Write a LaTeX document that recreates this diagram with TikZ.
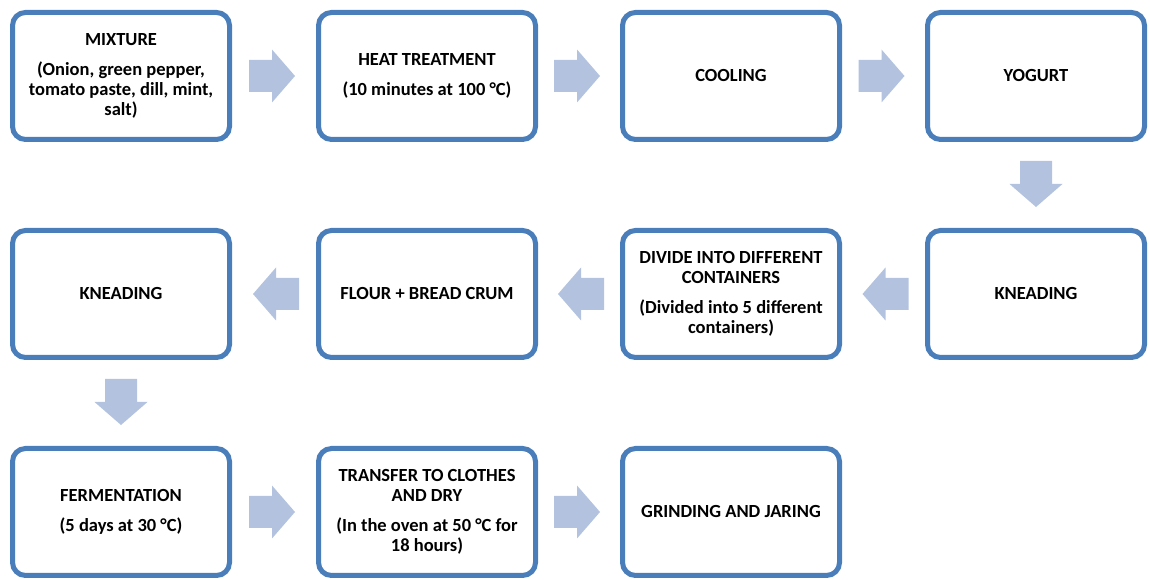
\documentclass[tikz,border=0pt]{standalone}
\usepackage{fontspec}
\setmainfont{Carlito}
\usetikzlibrary{calc}
\definecolor{boxline}{HTML}{4A7EBB}
\definecolor{arrowfill}{HTML}{B3C3DF}
\newcommand\blockarrow[2]{%
  \fill[arrowfill, shift={(#1)}, rotate=#2] (-23,-16) -- (0,-16) -- (0,-26.5) -- (23,0) -- (0,26.5) -- (0,16) -- (-23,16) -- cycle;}
\begin{document}
\begin{tikzpicture}[x=1pt,y=1pt,
  stepbox/.style={draw=boxline, line width=5pt, rounded corners=13pt, fill=white,
    minimum width=217pt, minimum height=127pt, align=center, inner sep=1pt,
    font=\fontsize{18.5}{20.3}\selectfont\bfseries}]
\useasboundingbox (0,0) rectangle (1150,580);
% row 1
\node[stepbox] (mix) at (121,504) {MIXTURE\\[9.7pt](Onion, green pepper,\\tomato paste, dill, mint,\\salt)};
\node[stepbox] (heat) at (427,504) {HEAT TREATMENT\\[9.7pt](10 minutes at 100 °C)};
\node[stepbox] (cool) at (731,504) {COOLING};
\node[stepbox] (yog) at (1036,504) {YOGURT};
% row 2
\node[stepbox] (knead1) at (1036,286) {KNEADING};
\node[stepbox] (divide) at (731,286) {DIVIDE INTO DIFFERENT\\CONTAINERS\\[9.7pt](Divided into 5 different\\containers)};
\node[stepbox] (flour) at (427,286) {FLOUR + BREAD CRUM};
\node[stepbox] (knead2) at (121,286) {KNEADING};
% row 3
\node[stepbox] (ferm) at (121,68) {FERMENTATION\\[9.7pt](5 days at 30 °C)};
\node[stepbox] (dry) at (427,68) {TRANSFER TO CLOTHES\\AND DRY\\[9.7pt](In the oven at 50 °C for\\18 hours)};
\node[stepbox] (grind) at (731,68) {GRINDING AND JARING};
% arrows
\blockarrow{$(mix.east)!0.5!(heat.west)+(-2,0)$}{0}
\blockarrow{$(heat.east)!0.5!(cool.west)+(-2,0)$}{0}
\blockarrow{$(cool.east)!0.5!(yog.west)+(-2,0)$}{0}
\blockarrow{$(yog.south)!0.5!(knead1.north)+(0,1)$}{-90}
\blockarrow{$(knead1.west)!0.5!(divide.east)+(2,0)$}{180}
\blockarrow{$(divide.west)!0.5!(flour.east)+(2,0)$}{180}
\blockarrow{$(flour.west)!0.5!(knead2.east)+(2,0)$}{180}
\blockarrow{$(knead2.south)!0.5!(ferm.north)+(0,1)$}{-90}
\blockarrow{$(ferm.east)!0.5!(dry.west)+(-2,0)$}{0}
\blockarrow{$(dry.east)!0.5!(grind.west)+(-2,0)$}{0}
\end{tikzpicture}
\end{document}
